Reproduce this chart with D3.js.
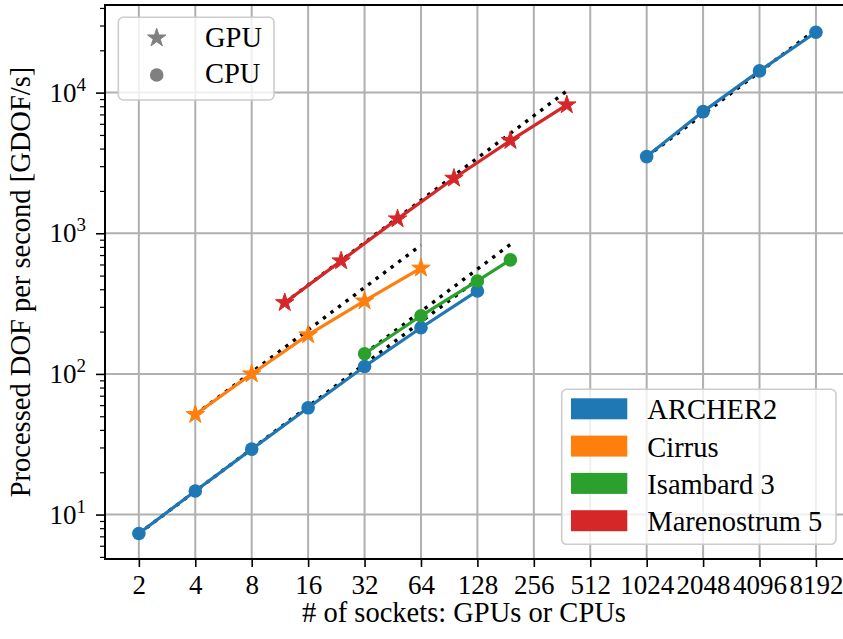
<!DOCTYPE html>
<meta charset="utf-8">
<html>
<head>
  <title>Strong scaling</title>
  <style>
    body { margin: 0; background: #fff; }
    text { font-family: "Liberation Serif", "DejaVu Serif", serif; }
  </style>
</head>
<body>

  <svg id="my_dataviz" width="843" height="639"></svg>

  <script src="https://d3js.org/d3.v7.min.js"></script>
  <script>

    // ---- data ----
    var archerX = [2, 4, 8, 16, 32, 64, 128]
    var archerY = [7.33, 14.7, 29.2, 57.4, 112.8, 213, 389]
    var archerBigX = [1024, 2048, 4096, 8192]
    var archerBigY = [3508, 7328, 14270, 26860]
    var cirrusX = [4, 8, 16, 32, 64]
    var cirrusY = [51.4, 100, 189.5, 330, 565]
    var isambardX = [32, 64, 128, 192]
    var isambardY = [139, 259, 458, 647]
    var mn5X = [12, 24, 48, 96, 192, 384]
    var mn5Y = [321, 636, 1265, 2462, 4560, 8180]

    var xTicks = [2, 4, 8, 16, 32, 64, 128, 256, 512, 1024, 2048, 4096, 8192]
    var yTicks = [10, 100, 1000, 10000]
    var yTickExp = ["1", "2", "3", "4"]
    var systemNames = ["ARCHER2", "Cirrus", "Isambard 3", "Marenostrum 5"]
    var systemColors = ["#1f77b4", "#ff7f0e", "#2ca02c", "#d62728"]
    var markerNames = ["GPU", "CPU"]

    // each run: x, y, colour index, marker
    var runs = [
      { x: archerX, y: archerY, c: 0, m: "circle" },
      { x: archerBigX, y: archerBigY, c: 0, m: "circle" },
      { x: cirrusX, y: cirrusY, c: 1, m: "star" },
      { x: isambardX, y: isambardY, c: 2, m: "circle" },
      { x: mn5X, y: mn5Y, c: 3, m: "star" }
    ]

    var svg = d3.select("svg"),
      width = +svg.attr("width"),
      height = +svg.attr("height");

    // plot area (right edge lies just outside the picture)
    var axL = 105, axR = 849.8, axT = 5, axB = 559
    var fontSize = 27

    var x = d3.scaleLog().base(2)
      .domain([Math.pow(2, 0.4), Math.pow(2, 13.6)])
      .range([axL, axR])
    var y = d3.scaleLog()
      .domain([Math.pow(10, 0.684), Math.pow(10, 4.623)])
      .range([axB, axT])

    svg.append("rect").attr("width", width).attr("height", height).attr("fill", "#fff")

    // grid
    svg.append("g").selectAll("line")
      .data(xTicks).enter().append("line")
      .attr("x1", function (d) { return x(d) }).attr("x2", function (d) { return x(d) })
      .attr("y1", axT).attr("y2", axB)
      .attr("stroke", "#b0b0b0").attr("stroke-width", 2)
    svg.append("g").selectAll("line")
      .data(yTicks).enter().append("line")
      .attr("x1", axL).attr("x2", axR)
      .attr("y1", function (d) { return y(d) }).attr("y2", function (d) { return y(d) })
      .attr("stroke", "#b0b0b0").attr("stroke-width", 2)

    var line = d3.line()
      .x(function (d) { return x(d[0]) })
      .y(function (d) { return y(d[1]) })

    // ideal scaling (dotted), from the first point of each run
    runs.forEach(function (r) {
      var x0 = r.x[0], y0 = r.y[0], x1 = r.x[r.x.length - 1]
      svg.append("path")
        .attr("d", line([[x0, y0], [x1, y0 * x1 / x0]]))
        .attr("fill", "none")
        .attr("stroke", "black")
        .attr("stroke-width", 3.4)
        .style("stroke-dasharray", "3.4,6")
    })

    var star = d3.symbol().type(d3.symbolStar).size(105)

    // measured runs
    runs.forEach(function (r) {
      var pts = r.x.map(function (v, i) { return [v, r.y[i]] })
      var col = systemColors[r.c]
      svg.append("path")
        .attr("d", line(pts))
        .attr("fill", "none")
        .attr("stroke", col)
        .attr("stroke-width", 3.2)
      if (r.m == "circle") {
        svg.append("g").selectAll("circle")
          .data(pts).enter().append("circle")
          .attr("cx", function (d) { return x(d[0]) })
          .attr("cy", function (d) { return y(d[1]) })
          .attr("r", 6.8)
          .attr("fill", col)
      } else {
        svg.append("g").selectAll("path")
          .data(pts).enter().append("path")
          .attr("d", star)
          .attr("transform", function (d) { return "translate(" + x(d[0]) + "," + y(d[1]) + ")" })
          .attr("fill", col)
          .attr("stroke", col)
          .attr("stroke-width", 1)
          .attr("stroke-linejoin", "round")
      }
    })

    // axes
    var xAxis = svg.append("g")
      .attr("transform", "translate(0," + axB + ")")
      .call(d3.axisBottom(x).tickValues(xTicks).tickFormat(d3.format("d")).tickSize(8).tickSizeOuter(0))
    xAxis.select(".domain").remove()
    xAxis.selectAll("line").attr("stroke-width", 1.6)
    xAxis.selectAll("text")
      .attr("y", 35).attr("dy", null)
      .attr("fill", "black")
      .style("font-size", fontSize + "px")
      .style("font-family", "Liberation Serif")

    var minor = []
    for (var e = 0; e < 5; e++) {
      for (var k = 2; k < 10; k++) {
        var v = k * Math.pow(10, e)
        if (v > y.domain()[0] && v < y.domain()[1]) minor.push(v)
      }
    }
    var yMinor = svg.append("g")
      .attr("transform", "translate(" + axL + ",0)")
      .call(d3.axisLeft(y).tickValues(minor).tickFormat("").tickSize(5).tickSizeOuter(0))
    yMinor.select(".domain").remove()
    yMinor.selectAll("line").attr("stroke-width", 1.2)

    var yAxis = svg.append("g")
      .attr("transform", "translate(" + axL + ",0)")
      .call(d3.axisLeft(y).tickValues(yTicks).tickFormat("").tickSize(9).tickSizeOuter(0))
    yAxis.select(".domain").remove()
    yAxis.selectAll("line").attr("stroke-width", 1.6)

    var yLab = svg.append("g").selectAll("text")
      .data(yTicks).enter().append("text")
      .attr("x", 86)
      .attr("y", function (d) { return y(d) + 9 })
      .attr("text-anchor", "end")
      .style("font-size", fontSize + "px")
    yLab.append("tspan").text("10")
    yLab.append("tspan")
      .attr("dy", -11)
      .style("font-size", "19px")
      .text(function (d, i) { return yTickExp[i] })

    // spines
    svg.append("path")
      .attr("d", "M" + axR + "," + axT + "H" + axL + "V" + axB + "H" + axR)
      .attr("fill", "none")
      .attr("stroke", "black")
      .attr("stroke-width", 2)

    // axis titles
    svg.append("text")
      .attr("x", 464)
      .attr("y", 622)
      .attr("text-anchor", "middle")
      .style("font-size", "28.5px")
      .text("# of sockets: GPUs or CPUs")

    svg.append("text")
      .attr("transform", "translate(30," + (axT + axB) / 2 + ") rotate(-90)")
      .attr("text-anchor", "middle")
      .style("font-size", "28.5px")
      .text("Processed DOF per second [GDOF/s]")

    // legend: marker type
    svg.append("rect")
      .attr("x", 118.3).attr("y", 17.3).attr("width", 155.7).attr("height", 82.7)
      .attr("rx", 5)
      .attr("fill", "white").attr("fill-opacity", 0.8)
      .attr("stroke", "#cccccc").attr("stroke-width", 1.6)
    svg.append("path")
      .attr("d", star)
      .attr("transform", "translate(156.7,38)")
      .attr("fill", "#808080")
      .attr("stroke", "#808080")
      .attr("stroke-width", 1)
      .attr("stroke-linejoin", "round")
    svg.append("circle")
      .attr("cx", 156.7).attr("cy", 75).attr("r", 6.8)
      .attr("fill", "#808080")
    svg.append("g").selectAll("text")
      .data(markerNames).enter().append("text")
      .attr("x", 205)
      .attr("y", function (d, i) { return 46.7 + i * 36.6 })
      .style("font-size", "28.5px")
      .text(function (d) { return d })

    // legend: systems
    svg.append("rect")
      .attr("x", 561.7).attr("y", 389.3).attr("width", 274.3).attr("height", 155)
      .attr("rx", 5)
      .attr("fill", "white").attr("fill-opacity", 0.8)
      .attr("stroke", "#cccccc").attr("stroke-width", 1.6)
    var leg = svg.append("g").selectAll("g")
      .data(systemNames).enter().append("g")
      .attr("transform", function (d, i) { return "translate(0," + (i * 37.3) + ")" })
    leg.append("rect")
      .attr("x", 571).attr("y", 398.3).attr("width", 56.3).attr("height", 21)
      .attr("fill", function (d, i) { return systemColors[i] })
    leg.append("text")
      .attr("x", 647.3).attr("y", 419.3)
      .style("font-size", "28.5px")
      .text(function (d) { return d })

  </script>
</body>
</html>
